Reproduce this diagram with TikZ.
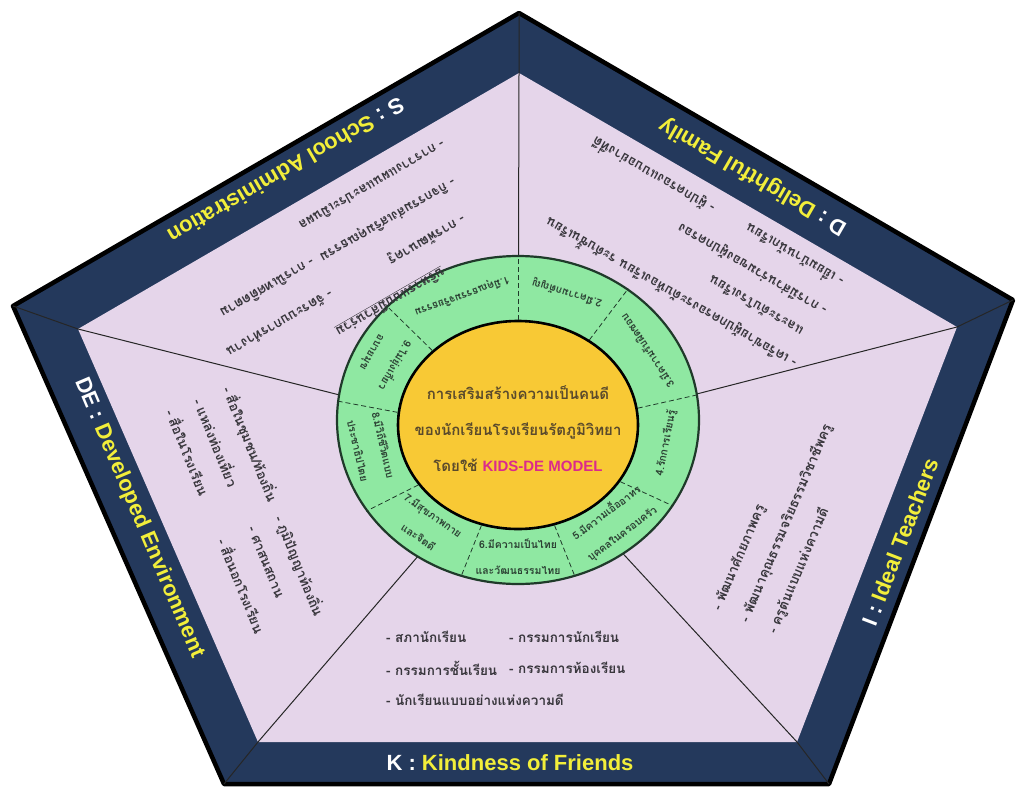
\documentclass[tikz,border=0pt]{standalone}
\usepackage{fontspec}
\newfontfamily\thaifont[Script=Thai]{Loma}
\newfontfamily\labelfont{Liberation Sans}
\usetikzlibrary{positioning, shapes.geometric}

\definecolor{bandnavy}{HTML}{24395C}
\definecolor{sectorpink}{HTML}{E5D5EA}
\definecolor{ringgreen}{HTML}{8FE8A2}
\definecolor{ringedge}{HTML}{1F3A2A}
\definecolor{coreyellow}{HTML}{F8C935}
\definecolor{labelyellow}{HTML}{F2EE3A}
\definecolor{coretext}{HTML}{5A4A2C}
\definecolor{modelpink}{HTML}{DB2A8C}
\definecolor{itemgray}{HTML}{38363C}
\definecolor{ringtext}{HTML}{2C4234}

\begin{document}
\begin{tikzpicture}[x=1pt, y=-1pt,
    every node/.style={inner sep=0pt},
    band label/.style={font=\labelfont\bfseries\fontsize{22}{22}\selectfont, text=labelyellow},
    item/.style={anchor=west, font=\thaifont\bfseries\fontsize{13.5}{15}\selectfont, text=itemgray},
    ring item/.style={align=center, font=\thaifont\bfseries\fontsize{10.5}{26}\selectfont, text=ringtext},
    spoke/.style={line width=1pt, draw=black!85}]

	\useasboundingbox (0,0) rectangle (1017,787);

	% Corners outer and inner pentagon
	\coordinate (vtop) at (519,13);
	\coordinate (vright) at (1013,300);
	\coordinate (vlowright) at (829,784);
	\coordinate (vlowleft) at (224,784);
	\coordinate (vleft) at (13,306);
	\coordinate (itop) at (519,73);
	\coordinate (iright) at (957,327);
	\coordinate (ilowright) at (797,742);
	\coordinate (ilowleft) at (258,742);
	\coordinate (ileft) at (78,329);
	\coordinate (hub) at (518,440);

	% Band and sectors
	\fill[bandnavy] (vtop) -- (vright) -- (vlowright) -- (vlowleft) -- (vleft) -- cycle;
	\draw[line width=4.5pt, line join=round] (vtop) -- (vright) -- (vlowright) -- (vlowleft) -- (vleft) -- cycle;
	\fill[sectorpink] (itop) -- (iright) -- (ilowright) -- (ilowleft) -- (ileft) -- cycle;
	\foreach \c in {top, right, lowright, lowleft, left}
		\draw[spoke] (v\c) -- (i\c) -- (hub);

	% Ring and core
	\node[draw=ringedge, line width=2.2pt, fill=ringgreen, ellipse, minimum width=362pt, minimum height=328pt] (ring) at (518,420) {};
	\node[draw=black, line width=2.6pt, fill=coreyellow, ellipse, minimum width=240pt, minimum height=208pt] (core) at (518,425) {};
	\foreach \a in {90, 50, 8, -29, -70, -110, -149, 174, 139}
		\draw[ringedge, line width=0.8pt, dash pattern=on 5pt off 3pt] (core.\a) -- (ring.\a);

	% Core text
	\node[align=center, text=coretext, font=\thaifont\bfseries\fontsize{15}{36}\selectfont] (slogan) at (518,429)
		{การเสริมสร้างความเป็นคนดี\\ของนักเรียนโรงเรียนรัตภูมิวิทยา\\โดยใช้ {\labelfont\bfseries\color{modelpink}KIDS-DE MODEL}};

	% Ring segments
	\node[ring item, rotate=200] (seg1) at (462,296) {1.มีคุณธรรมจริยธรรม};
	\node[ring item, rotate=163] (seg2) at (567,293) {2.มีความกตัญญู};
	\node[ring item, rotate=124] (seg3) at (647,351) {3.มีความรับผิดชอบ};
	\node[ring item, rotate=79] (seg4) at (666,443) {4.รักการเรียนรู้};
	\node[ring item, rotate=37] (seg5) at (614,523) {5.มีความเอื้ออาทร\\บุคคลในครอบครัว};
	\node[ring item, rotate=0] (seg6) at (518,557) {6.มีความเป็นไทย\\และวัฒนธรรมไทย};
	\node[ring item, rotate=-35] (seg7) at (426,526) {7.มีสุขภาพกาย\\และจิตดี};
	\node[ring item, rotate=-77] (seg8) at (371,448) {8.มีวิถีชีวิตแบบ\\ประชาธิปไตย};
	\node[ring item, rotate=240] (seg9) at (384,359) {9.ไม่ยุ่งเกี่ยว\\อบายมุข};

	% Band labels
	\node[band label, rotate=210] (slabel) at (286,171) {\textcolor{white}{S :} School Administration};
	\node[band label, rotate=150] (dlabel) at (753,176) {\textcolor{white}{D :} Delightful Family};
	\node[band label, rotate=69] (ilabel) at (900,542) {\textcolor{white}{I :} Ideal Teachers};
	\node[band label] (klabel) at (510,763) {\textcolor{white}{K :} Kindness of Friends};
	\node[band label, rotate=-67] (delabel) at (139,518) {\textcolor{white}{DE :} Developed Environment};

	% S items
	\begin{scope}[shift={(464,218)}, rotate=210, transform shape]
		\node[item] (stitle) at (44,-36) {\underline{บริหารแบบมีส่วนร่วม}};
		\node[item] (s1) at (0,0) {- การพัฒนาครู};
		\node[item] (s2) at (-10,37) {- กิจกรรมส่งเสริมคุณธรรม};
		\node[item] (s3) at (-20,74) {- การวางแผนและประเมินผล};
		\node[item] (s4) at (152,0) {- จัดระบบการทำงาน};
		\node[item] (s5) at (152,37) {- การนิเทศติดตาม};
	\end{scope}

	% D items
	\begin{scope}[shift={(795,365)}, rotate=150, transform shape]
		\node[item] (d1) at (0,0) {- เครือข่ายผู้ปกครองระดับห้องเรียน ระดับชั้นเรียน};
		\node[item] (d2) at (10,31) {และระดับโรงเรียน};
		\node[item] (d3) at (0,62) {- การมีส่วนร่วมของผู้ปกครอง};
		\node[item] (d4) at (0,93) {- เยี่ยมบ้านนักเรียน};
		\node[item] (d5) at (148,93) {- ผู้ปกครองแบบอย่างที่ดี};
	\end{scope}

	% I items
	\begin{scope}[shift={(717,610)}, rotate=67, transform shape]
		\node[item] (i1) at (0,0) {- พัฒนาศักยภาพครู};
		\node[item] (i2) at (0,30) {- พัฒนาคุณธรรมจริยธรรมวิชาชีพครู};
		\node[item] (i3) at (0,60) {- ครูต้นแบบแห่งความดี};
	\end{scope}

	% K items
	\begin{scope}[shift={(386,637)}]
		\node[item] (k1) at (0,0) {- สภานักเรียน};
		\node[item] (k2) at (123,0) {- กรรมการนักเรียน};
		\node[item] (k3) at (0,31) {- กรรมการชั้นเรียน};
		\node[item] (k4) at (123,31) {- กรรมการห้องเรียน};
		\node[item] (k5) at (0,63) {- นักเรียนแบบอย่างแห่งความดี};
	\end{scope}

	% DE items
	\begin{scope}[shift={(227,387)}, rotate=-68, transform shape]
		\node[item] (e1) at (0,0) {- สื่อในชุมชน/ท้องถิ่น};
		\node[item] (e2) at (0,30) {- แหล่งท่องเที่ยว};
		\node[item] (e3) at (0,60) {- สื่อในโรงเรียน};
		\node[item] (e4) at (139,0) {- ภูมิปัญญาท้องถิ่น};
		\node[item] (e5) at (139,30) {- ศาสนสถาน};
		\node[item] (e6) at (139,60) {- สื่อนอกโรงเรียน};
	\end{scope}
\end{tikzpicture}
\end{document}
